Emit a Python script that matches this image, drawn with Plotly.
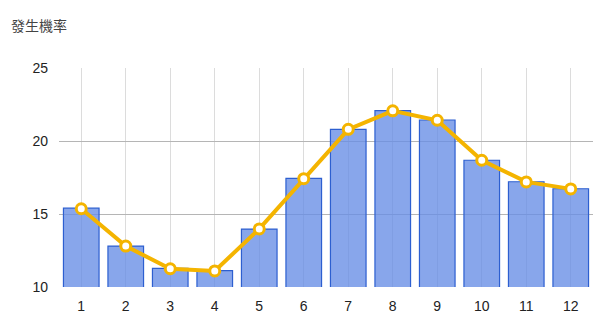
import plotly.graph_objects as go

months = [str(i) for i in range(1, 13)]
bar_values = [15.4, 12.8, 11.28, 11.12, 13.97, 17.44, 20.8, 22.08, 21.44, 18.68, 17.21, 16.73]
line_values = [15.36, 12.8, 11.25, 11.1, 13.98, 17.42, 20.8, 22.07, 21.42, 18.68, 17.2, 16.72]
y_ticks = [10, 15, 20, 25]
title_text = "發生機率"

fig = go.Figure()
fig.add_trace(go.Bar(
    x=months, y=bar_values, width=0.8,
    marker=dict(color="rgba(102,141,229,0.78)", line=dict(color="#2d5fd0", width=1.2)),
    showlegend=False, hoverinfo="skip",
))
fig.add_trace(go.Scatter(
    x=months, y=line_values, mode="lines+markers",
    line=dict(color="#f4b400", width=4),
    marker=dict(size=10, color="white", line=dict(color="#f4b400", width=3)),
    showlegend=False,
))

fig.update_layout(
    width=600, height=322,
    margin=dict(l=59, r=7, t=68, b=35),
    plot_bgcolor="white", paper_bgcolor="white",
    font=dict(family="Liberation Sans, Arial, sans-serif", size=14, color="#222"),
    bargap=0.2,
    annotations=[dict(
        text=title_text, xref="paper", yref="paper", x=-0.094, y=1.0, yshift=43,
        xanchor="left", yanchor="middle", showarrow=False,
        font=dict(family="Noto Sans CJK TC", size=14, color="#444"),
    )],
)
fig.update_xaxes(
    showgrid=True, gridcolor="#dcdcdc", gridwidth=1,
    showline=False, zeroline=False, ticks="", ticklabelstandoff=9,
    range=[-0.5, 11.5],
)
fig.update_yaxes(
    range=[10, 25], tickvals=y_ticks, showgrid=True, gridcolor="#b5b5b5", gridwidth=1,
    zeroline=False, showline=False, ticks="", ticklabelstandoff=10,
)

fig.write_html("out.html")
